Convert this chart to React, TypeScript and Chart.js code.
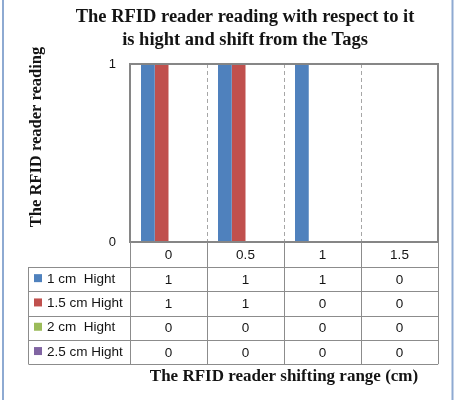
import React, { useEffect, useRef } from "react";
import { Chart, registerables } from "chart.js";

Chart.register(...registerables);

// ---- data ----
const categories = ["0", "0.5", "1", "1.5"];
const seriesNames = ["1 cm  Hight", "1.5 cm Hight", "2 cm  Hight", "2.5 cm Hight"];
const hight1cm = [1, 1, 1, 0];
const hight15cm = [1, 1, 0, 0];
const hight2cm = [0, 0, 0, 0];
const hight25cm = [0, 0, 0, 0];
const seriesColors = ["#4F81BD", "#C0504D", "#9BBB59", "#8064A2"];
const yTickValues = [0, 1];
const chartTitle = ["The RFID reader reading with respect to it", "is hight and shift from the Tags"];
const yTitle = "The RFID reader reading";
const xTitle = "The RFID reader shifting range (cm)";

const seriesValues = [hight1cm, hight15cm, hight2cm, hight25cm];

const TEXT = "#141414";
const LINE = "#8c8c8c";
const SANS = "'Liberation Sans', Arial, sans-serif";
const SERIF = "'Liberation Serif', 'Times New Roman', serif";

const tablePlugin = {
  id: "dataTable",
  beforeDraw(chart: any) {
    const { ctx, width, height } = chart;
    ctx.save();
    ctx.fillStyle = "#ffffff";
    ctx.fillRect(0, 0, width, height);
    ctx.strokeStyle = "#8eaad2";
    ctx.lineWidth = 2;
    ctx.beginPath();
    ctx.moveTo(3, 0);
    ctx.lineTo(3, height);
    ctx.moveTo(452.5, 0);
    ctx.lineTo(452.5, height);
    ctx.stroke();
    ctx.restore();
  },
  afterDatasetsDraw(chart: any) {
    const { ctx, chartArea } = chart;
    ctx.save();
    ctx.strokeStyle = "#868686";
    ctx.lineWidth = 2;
    ctx.strokeRect(chartArea.left, chartArea.top, chartArea.right - chartArea.left, chartArea.bottom - chartArea.top);
    ctx.restore();
  },
  afterDraw(chart: any) {
    const { ctx, chartArea } = chart;
    const xs = chart.scales.x;
    const n = categories.length;
    const colW = (xs.right - xs.left) / n;
    const top = chartArea.bottom;
    const headerH = 25;
    const rowH = 24.3;
    const legendLeft = 28.5;
    const rowsTop = top + headerH;
    const bottom = rowsTop + rowH * seriesNames.length;

    ctx.save();
    // y-axis title (rotated)
    ctx.save();
    ctx.translate(37, (chartArea.top + chartArea.bottom) / 2 - 16);
    ctx.rotate(-Math.PI / 2);
    ctx.fillStyle = TEXT;
    ctx.font = `bold 16.5px ${SERIF}`;
    ctx.textAlign = "center";
    ctx.textBaseline = "middle";
    ctx.fillText(yTitle, 0, 0);
    ctx.restore();

    ctx.strokeStyle = LINE;
    ctx.lineWidth = 1;
    ctx.beginPath();
    for (let r = 0; r <= seriesNames.length; r++) {
      const y = Math.round(rowsTop + r * rowH) + 0.5;
      ctx.moveTo(legendLeft, y);
      ctx.lineTo(xs.right, y);
    }
    for (let c = 0; c <= n; c++) {
      const x = Math.round(xs.left + c * colW) + 0.5;
      ctx.moveTo(x, top);
      ctx.lineTo(x, bottom);
    }
    ctx.moveTo(legendLeft, rowsTop);
    ctx.lineTo(legendLeft, bottom);
    ctx.stroke();

    ctx.fillStyle = TEXT;
    ctx.font = `13.5px ${SANS}`;
    ctx.textAlign = "center";
    ctx.textBaseline = "middle";
    for (let c = 0; c < n; c++) {
      const cx = xs.getPixelForValue(c);
      ctx.fillText(categories[c], cx, top + headerH / 2 + 1);
      for (let r = 0; r < seriesNames.length; r++) {
        ctx.fillText(String(seriesValues[r][c]), cx, rowsTop + r * rowH + rowH / 2 + 1);
      }
    }
    ctx.textAlign = "left";
    for (let r = 0; r < seriesNames.length; r++) {
      const cy = rowsTop + r * rowH + rowH / 2;
      ctx.fillStyle = seriesColors[r];
      ctx.fillRect(34, cy - 5, 8, 8);
      ctx.fillStyle = TEXT;
      ctx.fillText(seriesNames[r], 47, cy);
    }
    ctx.restore();
  },
};

export default function App() {
  const canvasRef = useRef<HTMLCanvasElement | null>(null);

  useEffect(() => {
    if (!canvasRef.current) return;
    const chart = new Chart(canvasRef.current, {
      type: "bar",
      data: {
        labels: categories,
        datasets: seriesNames.map((name, i) => ({
          label: name,
          data: seriesValues[i],
          backgroundColor: seriesColors[i],
          borderWidth: 0,
          categoryPercentage: 0.714,
          barPercentage: 1.0,
        })),
      },
      plugins: [tablePlugin],
      options: {
        responsive: false,
        animation: false,
        layout: { padding: { left: 52, right: 17, top: 0, bottom: 10 } },
        plugins: {
          legend: { display: false },
          tooltip: { enabled: false },
          title: {
            display: true,
            text: chartTitle,
            color: TEXT,
            font: { family: SERIF, size: 18.5, weight: "bold", lineHeight: 1.243 },
            padding: { top: 5.5, bottom: 12.5 },
          },
        },
        scales: {
          x: {
            grid: { display: true, color: "#a6a6a6", lineWidth: 1, drawTicks: false },
            border: { display: false, dash: [4, 3] },
            ticks: { display: false },
            title: {
              display: true,
              text: xTitle,
              color: TEXT,
              font: { family: SERIF, size: 17, weight: "bold" },
              padding: { top: 120, bottom: 3 },
            },
            afterFit: (scale: any) => {
              scale.height = 148;
            },
          },
          y: {
            min: 0,
            max: 1,
            afterBuildTicks: (scale: any) => {
              scale.ticks = yTickValues.map((v) => ({ value: v }));
            },
            grid: { display: false, drawTicks: false },
            border: { display: false },
            ticks: { color: TEXT, padding: 14, font: { family: SANS, size: 13 } },
            title: { display: false },
            afterFit: (scale: any) => {
              scale.width = 78;
            },
          },
        },
      },
    });
    return () => chart.destroy();
  }, []);

  return (
    <div style={{ position: "absolute", left: 0, top: 0, width: 455, height: 400 }}>
      <canvas ref={canvasRef} width={455} height={400} />
    </div>
  );
}
